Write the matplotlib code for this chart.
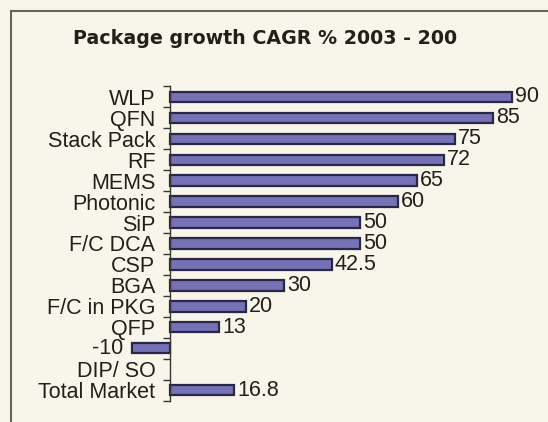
import numpy as np
import matplotlib.pyplot as plt
from matplotlib.lines import Line2D

categories = ['WLP', 'QFN', 'Stack Pack', 'RF', 'MEMS', 'Photonic', 'SiP', 'F/C DCA',
              'CSP', 'BGA', 'F/C in PKG', 'QFP', '', 'DIP/ SO', 'Total Market']
values = [90, 85, 75, 72, 65, 60, 50, 50, 42.5, 30, 20, 13, -10, np.nan, 16.8]
value_labels = ['90', '85', '75', '72', '65', '60', '50', '50', '42.5', '30', '20', '13',
                '-10', '', '16.8']
title = 'Package growth CAGR % 2003 - 200'

bg = '#f8f5ea'
bar_fill = '#7772b6'
bar_edge = '#2a2645'
text_col = '#231f1c'

label_font = ['Liberation Sans', 'DejaVu Sans']


def plot_chart():
    fig = plt.figure(figsize=(5.48, 4.22), dpi=100, facecolor=bg)
    ax = fig.add_axes([124.4 / 548, 1 - 400.5 / 422, (546.2 - 124.4) / 548, 314 / 422])
    ax.set_facecolor(bg)

    y = np.arange(len(categories))
    ax.barh(y, values, height=0.5, color=bar_fill, edgecolor=bar_edge, linewidth=1.6)
    ax.set_xlim(-12, 99)
    ax.set_ylim(len(categories) - 0.5, -0.5)

    for sp in ['top', 'right', 'bottom']:
        ax.spines[sp].set_visible(False)
    ax.spines['left'].set_position(('data', 0))
    ax.spines['left'].set_color('#3a3530')
    ax.spines['left'].set_linewidth(1.0)
    ax.set_xticks([])

    ax.set_yticks(y)
    ax.set_yticklabels(categories, family=label_font, fontsize=15.5, color=text_col)
    ax.tick_params(axis='y', which='major', length=0, pad=10.5)
    ax.set_yticks(np.arange(-0.5, len(categories)), minor=True)
    ax.tick_params(axis='y', which='minor', length=5, width=1.0, color='#3a3530')

    for yi, v, lab in zip(y, values, value_labels):
        if np.isnan(v):
            continue
        if v >= 0:
            ax.text(v + 0.8, yi, lab, va='center', ha='left', family=label_font,
                    fontsize=15.5, color=text_col)
        else:
            ax.text(v - 2.2, yi, lab, va='center', ha='right', family=label_font,
                    fontsize=15.5, color=text_col)

    fig.text(265 / 548, 1 - 39 / 422, title, ha='center', va='center',
             fontsize=13.7, fontweight='bold', color=text_col, family='DejaVu Sans')

    # outer frame (top and left only, rest is cropped)
    fig.add_artist(Line2D([11 / 548, 1], [1 - 11 / 422] * 2, color='#66665a', lw=1.5))
    fig.add_artist(Line2D([11 / 548] * 2, [0, 1 - 11 / 422], color='#66665a', lw=1.5))

    fig.savefig('out.png', dpi=100, facecolor=bg)


def main():
    plot_chart()


if __name__ == "__main__":
    main()
